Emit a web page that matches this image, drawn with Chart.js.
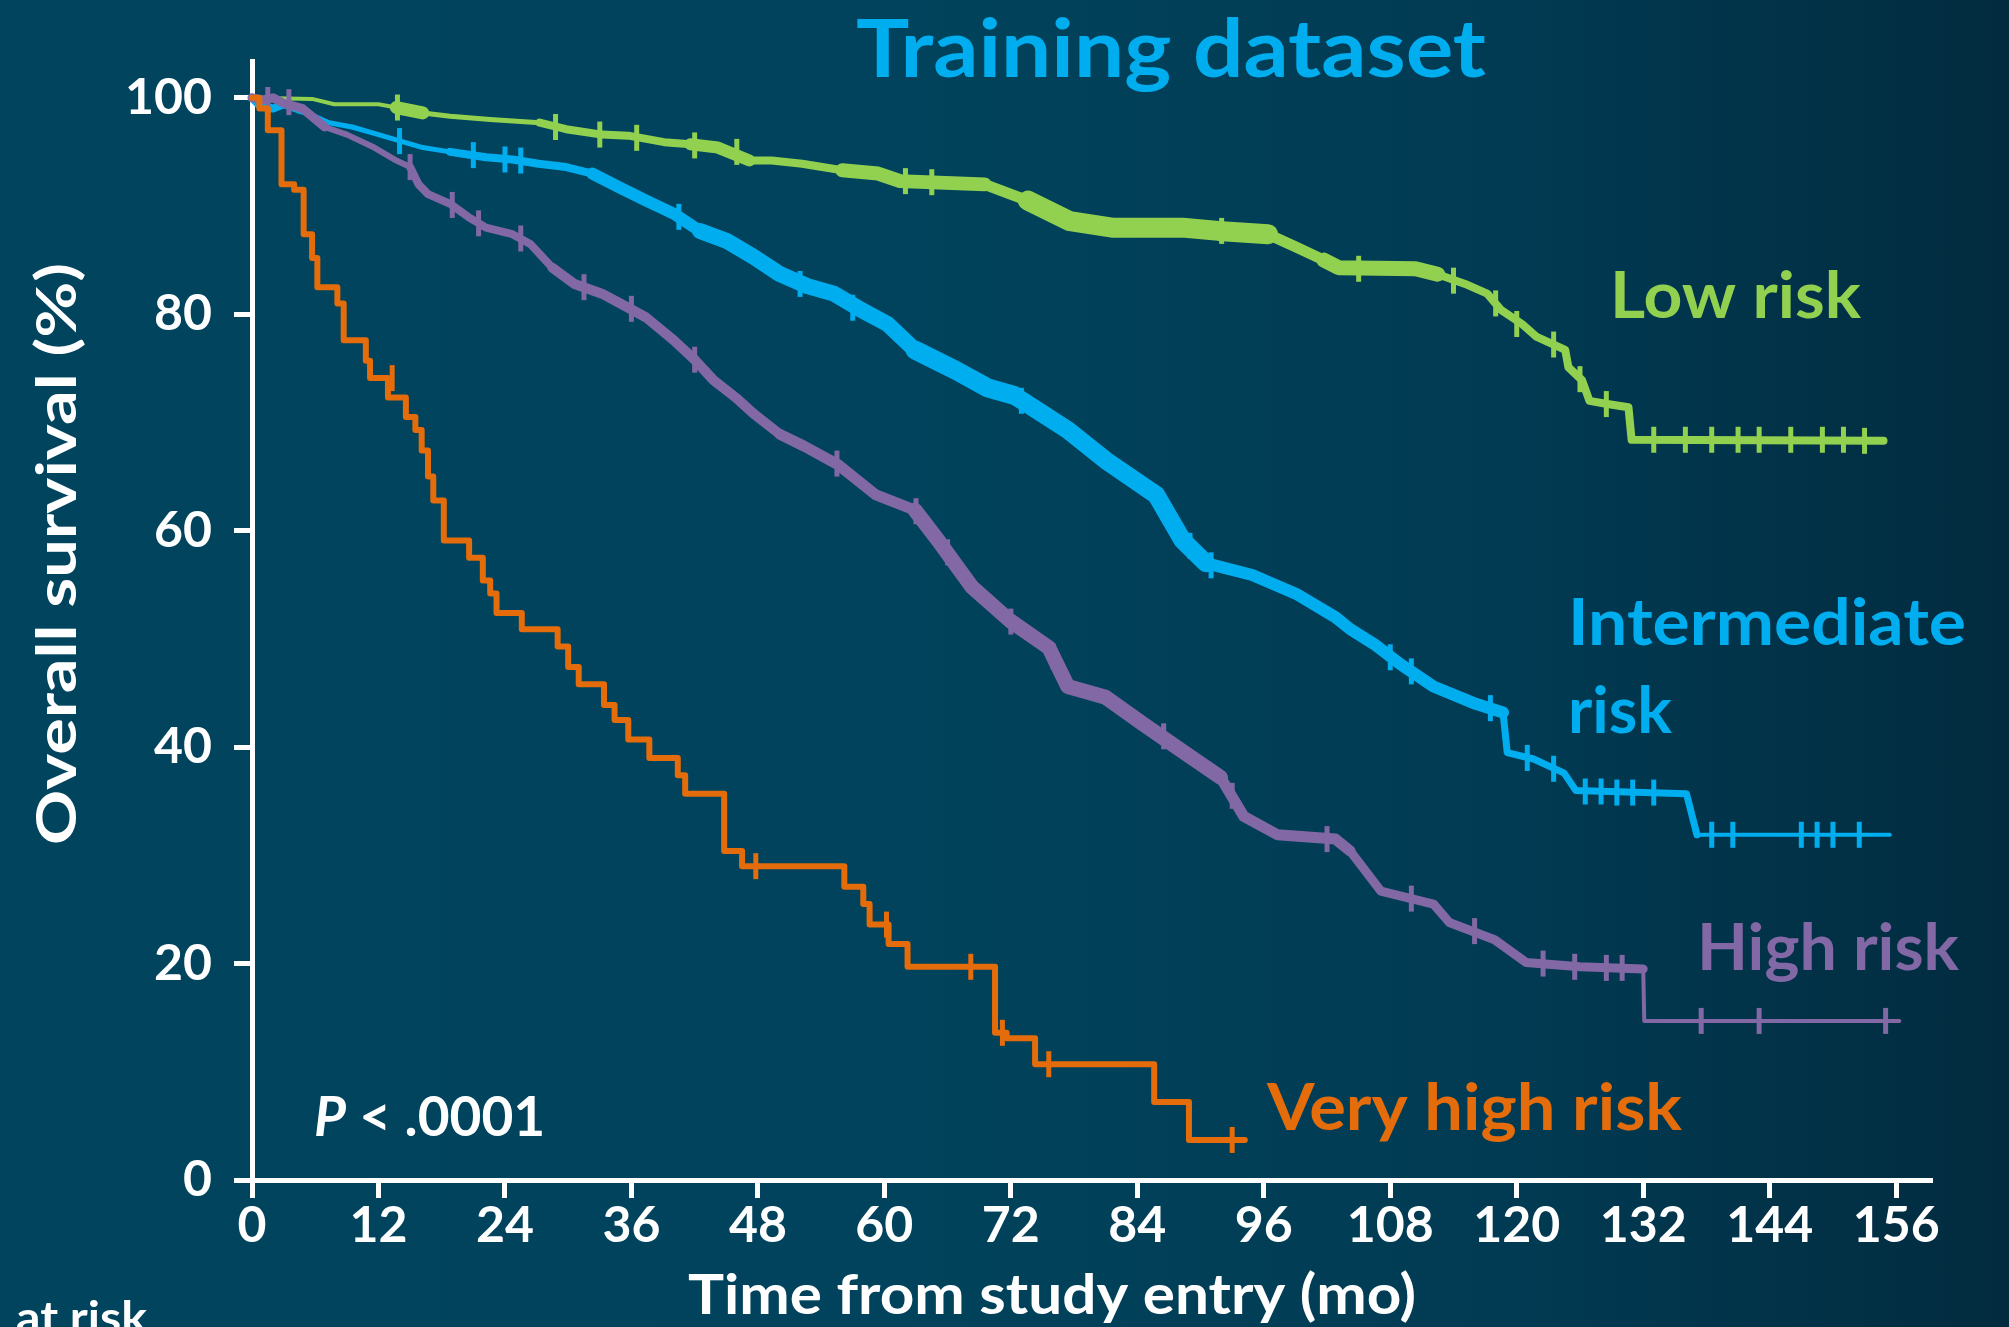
<!DOCTYPE html>
<html>
<head>
<meta charset="utf-8">
<title>Training dataset</title>
<script src="https://cdn.jsdelivr.net/npm/chart.js@4.4.1/dist/chart.umd.min.js"></script>
<style>
    html, body { margin: 0; padding: 0; overflow: hidden; }
    body {
        width: 2009px;
        height: 1327px;
        background: linear-gradient(90deg, #01445e 0%, #01435c 45%, #013b53 75%, #022b3f 100%);
    }
    #wrap { position: relative; width: 2009px; height: 1327px; }
</style>
</head>
<body>
<div id="wrap"><canvas id="km"></canvas></div>
<script>
// tick labels
const xTicks = [0, 12, 24, 36, 48, 60, 72, 84, 96, 108, 120, 132, 144, 156];
const yTicks = [0, 20, 40, 60, 80, 100];

// Low risk (months, survival %)
const lowTime = [0, 5.7, 7.8, 12, 13.7, 16.2, 18.8, 22.6, 27.3, 29.8, 33.2, 35.7, 39.1, 41.6, 44.2, 47.2, 49.3, 52.2, 56, 59.4, 61.5, 69.5, 73.6, 77.6, 81.6, 88.3, 91.7, 96.4, 99.1, 101.7, 103.1, 110.4, 112.5, 115.1, 117.2, 118.5, 120.5, 121.9, 124.6, 124.9, 126.2, 126.9, 128.6, 130.6, 130.9, 154.8];
const lowSurv = [100, 99.9, 99.4, 99.4, 99.1, 98.6, 98.3, 98, 97.7, 97.1, 96.6, 96.5, 95.9, 95.7, 95.4, 94.2, 94.2, 93.9, 93.3, 93, 92.3, 92, 90.5, 88.6, 88, 88, 87.7, 87.4, 86.2, 85, 84.3, 84.2, 83.7, 82.8, 81.9, 80.4, 79.1, 77.9, 76.7, 75.1, 73.9, 72, 71.7, 71.4, 68.4, 68.3];
const lowCensorTime = [13.8, 28.8, 33, 36.5, 42, 46, 62, 64.5, 92, 105, 114, 118, 120, 123.5, 126, 128.5, 133, 136, 138.5, 141, 143, 146, 149, 151, 153];
const lowCensorSurv = [99.1, 97.3, 96.6, 96.3, 95.6, 95, 92.3, 92.2, 87.7, 84.2, 83.1, 81, 79.1, 77.2, 74, 71.7, 68.4, 68.4, 68.4, 68.4, 68.4, 68.4, 68.4, 68.4, 68.3];

// Intermediate risk
const intTime = [0, 0.6, 2, 3, 4.8, 7.3, 9.5, 12, 14.1, 16.2, 18.8, 22.2, 24.7, 27.2, 29.8, 32.3, 34.9, 37.4, 40, 42.5, 45, 47.6, 50.1, 52.7, 55.2, 57.8, 60.3, 62.9, 66.8, 69.8, 72.3, 77.4, 81, 85.8, 88.3, 90.5, 94.9, 99.2, 102.8, 104.2, 106.5, 108.9, 112.1, 116.1, 118.7, 119.1, 121.6, 124.5, 125.6, 136.1, 137.1, 155.4];
const intSurv = [100, 99.4, 99, 99.4, 98.8, 97.7, 97.3, 96.6, 96, 95.4, 95, 94.5, 94.3, 93.9, 93.6, 93, 91.7, 90.5, 89.3, 87.7, 86.8, 85.3, 83.7, 82.6, 81.9, 80.4, 79.1, 76.7, 74.8, 73.2, 72.5, 69.3, 66.5, 63.3, 59.1, 57, 55.9, 54.1, 52, 50.9, 49.5, 47.7, 45.6, 44, 43.2, 39.5, 38.9, 37.6, 36, 35.7, 31.9, 31.9];
const intCensorTime = [14, 21, 24, 25.5, 40.5, 52, 57, 73, 89, 91, 108, 110, 117.5, 121, 123.5, 126.5, 128, 129.5, 131, 133, 138.5, 140.5, 147, 148.5, 150, 152.5];
const intCensorSurv = [96, 94.7, 94.3, 94.2, 89, 82.8, 80.6, 72, 58.6, 56.8, 48.3, 47, 43.6, 39, 38, 35.9, 35.9, 35.8, 35.8, 35.8, 31.9, 31.9, 31.9, 31.9, 31.9, 31.9];

// High risk
const highTime = [0, 1, 2, 3, 4.8, 6.9, 9, 11.6, 13.7, 15, 15.8, 16.7, 18.8, 20.5, 22.2, 24.7, 26.4, 28.5, 30.6, 33.2, 35.7, 37.4, 40, 42.1, 43.8, 45.9, 47.6, 50.1, 52.4, 55.6, 59.2, 62.9, 65.1, 68.3, 71.9, 75.6, 77.4, 81, 84.6, 88.3, 91.9, 94.1, 97.3, 102.8, 104.2, 107.1, 112.1, 113.6, 117.9, 120.9, 126, 132, 132.1, 156.3];
const highSurv = [100, 99.8, 100, 99.5, 99, 97.3, 96.6, 95.4, 94.2, 93.6, 92, 91.1, 90.2, 89, 88, 87.4, 86.5, 84.3, 82.8, 81.9, 80.6, 79.7, 77.6, 75.7, 73.9, 72.3, 70.8, 68.9, 67.8, 66.1, 63.3, 61.9, 59.1, 54.8, 51.7, 49.2, 45.6, 44.6, 42.1, 39.6, 37.2, 33.6, 31.9, 31.5, 30.4, 26.7, 25.5, 23.8, 22.2, 20.1, 19.7, 19.5, 14.7, 14.7];
const highCensorTime = [1.5, 3.5, 15, 19, 21.5, 25.5, 31.5, 36, 42, 55.5, 63, 66, 72, 76, 86.5, 93, 102, 110, 116, 122.5, 125.5, 128.5, 130, 137.5, 143, 155];
const highCensorSurv = [99.8, 99.6, 93.6, 90.1, 88.4, 87, 82.5, 80.5, 75.8, 66.2, 61.8, 58, 51.6, 48.4, 41, 35.5, 31.5, 26, 23, 20, 19.7, 19.6, 19.6, 14.7, 14.7, 14.7];

// Very high risk (step points: time of drop, survival after it)
const vhTime = [0, 0.7, 1.5, 2.8, 4, 4.9, 5.7, 6.2, 8.1, 8.7, 10.8, 11.2, 12.9, 14.6, 15.5, 16.1, 16.7, 17.2, 18.2, 20.6, 21.9, 22.6, 23.2, 25.6, 29, 30, 31, 33.4, 34.4, 35.7, 37.7, 40.4, 41.1, 44.8, 46.5, 56.2, 58, 58.6, 60.4, 62.2, 70.5, 71.6, 74.3, 85.6, 88.9, 94.2];
const vhSurv = [100, 99, 97, 92, 91.5, 87.4, 85.2, 82.5, 81, 77.6, 75.7, 74.1, 72.3, 70.5, 69.3, 67.4, 65, 62.8, 59.1, 57.5, 55.4, 54.2, 52.4, 50.9, 49.3, 47.4, 45.8, 43.9, 42.5, 40.7, 39, 37.4, 35.7, 30.4, 29, 27.1, 25.5, 23.6, 21.8, 19.7, 13.6, 13.1, 10.7, 7.2, 3.7, 3.7];
const vhCensorTime = [13.3, 47.8, 60.2, 68.2, 71.2, 75.6, 93];
const vhCensorSurv = [74.1, 29, 23.6, 19.7, 13.6, 10.7, 3.7];

const GREEN = "#92d050";
const BLUE = "#00aeef";
const PURPLE = "#8268a4";
const ORANGE = "#e46c0a";
const WHITE = "#ffffff";
const FONT = "Lato, 'Open Sans', sans-serif";

// line thickness along the curve (dense censoring makes the bands look fat)
const lowBands = [[0, 13, 4], [13, 15.5, 13], [15.5, 27, 5], [27, 40, 8], [40, 47, 12], [47, 56, 8], [56, 62, 14], [62, 70, 11], [70, 92, 20], [92, 100, 11], [100, 112, 15], [112, 131, 8], [131, 160, 6]];
const intBands = [[0, 4, 8], [4, 18, 5], [18, 32, 8], [32, 42, 12], [42, 62, 16], [62, 72, 19], [72, 90, 18], [90, 118, 12], [118, 137, 7], [137, 160, 4]];
const highBands = [[0, 5, 9], [5, 15, 6], [15, 28, 8], [28, 50, 10], [50, 62, 11], [62, 90, 15], [90, 104, 11], [104, 132, 9], [132, 160, 4]];

function toPoints(xs, ys) {
    return xs.map((x, i) => ({ x: x, y: ys[i] }));
}

function bandWidth(bands) {
    return (ctx) => {
        const x = ctx.p0.parsed.x;
        for (const b of bands) {
            if (x >= b[0] && x < b[1]) return b[2];
        }
        return 5;
    };
}

function curve(label, xs, ys, color, bands, stepped) {
    return {
        label: label,
        data: toPoints(xs, ys),
        borderColor: color,
        backgroundColor: color,
        borderWidth: 6,
        borderCapStyle: "round",
        borderJoinStyle: "round",
        pointRadius: 0,
        tension: 0,
        // horizontal first, then the drop (Kaplan-Meier style)
        stepped: stepped ? "before" : false,
        segment: bands ? { borderWidth: bandWidth(bands) } : undefined,
        clip: false,
    };
}

function censors(label, xs, ys, color) {
    return {
        label: label,
        data: toPoints(xs, ys),
        showLine: false,
        pointStyle: "line",
        rotation: 90,
        pointRadius: 13,
        pointHoverRadius: 13,
        pointBorderWidth: 5,
        pointBorderColor: color,
        borderColor: color,
        clip: false,
    };
}

function drawFit(c, text, x, y, size, targetW, color, align, italic) {
    c.save();
    c.font = (italic ? "italic " : "") + "bold " + size + "px " + FONT;
    const w = c.measureText(text).width;
    let sx = targetW ? targetW / w : 1;
    sx = Math.max(0.75, Math.min(1.2, sx));
    c.translate(x, y);
    c.scale(sx, 1);
    c.fillStyle = color;
    c.textAlign = align || "left";
    c.textBaseline = "alphabetic";
    c.fillText(text, 0, 0);
    c.restore();
}

const textPlugin = {
    id: "kmText",
    afterDraw(chart) {
        const c = chart.ctx;
        drawFit(c, "Training dataset", 1171, 77, 81, 630, BLUE, "center");
        drawFit(c, "Time from study entry (mo)", 1052, 1314, 56, 728, WHITE, "center");
        drawFit(c, "at risk", 16, 1333, 44, 131, WHITE, "left");

        // y axis title
        c.save();
        c.translate(58, 554);
        c.rotate(-Math.PI / 2);
        c.font = "bold 56px " + FONT;
        const w = c.measureText("Overall survival (%)").width;
        c.scale(582 / w, 1);
        c.fillStyle = WHITE;
        c.textAlign = "center";
        c.textBaseline = "middle";
        c.fillText("Overall survival (%)", 0, 0);
        c.restore();

        // p value, italic P
        c.save();
        c.font = "italic bold 55px " + FONT;
        const pw = c.measureText("P").width;
        c.restore();
        drawFit(c, "P", 314, 1136, 55, 0, WHITE, "left", true);
        drawFit(c, " < .0001", 314 + pw, 1136, 55, 0, WHITE, "left");

        drawFit(c, "Low risk", 1610, 318, 65, 251, GREEN, "left");
        drawFit(c, "Intermediate", 1568, 645, 65, 398, BLUE, "left");
        drawFit(c, "risk", 1568, 733, 65, 0, BLUE, "left");
        drawFit(c, "High risk", 1697, 970, 65, 262, PURPLE, "left");
        drawFit(c, "Very high risk", 1267, 1130, 65, 415, ORANGE, "left");
    },
};

const axisCommon = {
    border: { display: true, color: WHITE, width: 5 },
    grid: {
        display: true,
        drawOnChartArea: false,
        drawTicks: true,
        tickLength: 18,
        tickWidth: 5,
        tickColor: WHITE,
        color: WHITE,
    },
};

new Chart(document.getElementById("km"), {
    type: "line",
    data: {
        datasets: [
            censors("Very high risk censored", vhCensorTime, vhCensorSurv, ORANGE),
            curve("Very high risk", vhTime, vhSurv, ORANGE, null, true),
            censors("High risk censored", highCensorTime, highCensorSurv, PURPLE),
            curve("High risk", highTime, highSurv, PURPLE, highBands, false),
            censors("Intermediate risk censored", intCensorTime, intCensorSurv, BLUE),
            curve("Intermediate risk", intTime, intSurv, BLUE, intBands, false),
            censors("Low risk censored", lowCensorTime, lowCensorSurv, GREEN),
            curve("Low risk", lowTime, lowSurv, GREEN, lowBands, false),
        ],
    },
    options: {
        responsive: true,
        maintainAspectRatio: false,
        devicePixelRatio: 1,
        animation: false,
        events: [],
        layout: { padding: { top: 61, right: 77, bottom: 0, left: 0 } },
        plugins: { legend: { display: false }, tooltip: { enabled: false }, title: { display: false } },
        scales: {
            x: {
                ...axisCommon,
                type: "linear",
                min: 0,
                max: 159.4,
                afterBuildTicks: (scale) => { scale.ticks = xTicks.map((v) => ({ value: v })); },
                afterFit: (scale) => { scale.height = 147; },
                ticks: {
                    color: WHITE,
                    padding: 0,
                    maxRotation: 0,
                    autoSkip: false,
                    font: { family: FONT, weight: "bold", size: 50, lineHeight: 1.1 },
                },
            },
            y: {
                ...axisCommon,
                type: "linear",
                min: 0,
                max: 103.4,
                afterBuildTicks: (scale) => { scale.ticks = yTicks.map((v) => ({ value: v })); },
                afterFit: (scale) => { scale.width = 252; },
                ticks: {
                    color: WHITE,
                    padding: 22,
                    autoSkip: false,
                    font: { family: FONT, weight: "bold", size: 50 },
                },
            },
        },
    },
    plugins: [textPlugin],
});
</script>
</body>
</html>
